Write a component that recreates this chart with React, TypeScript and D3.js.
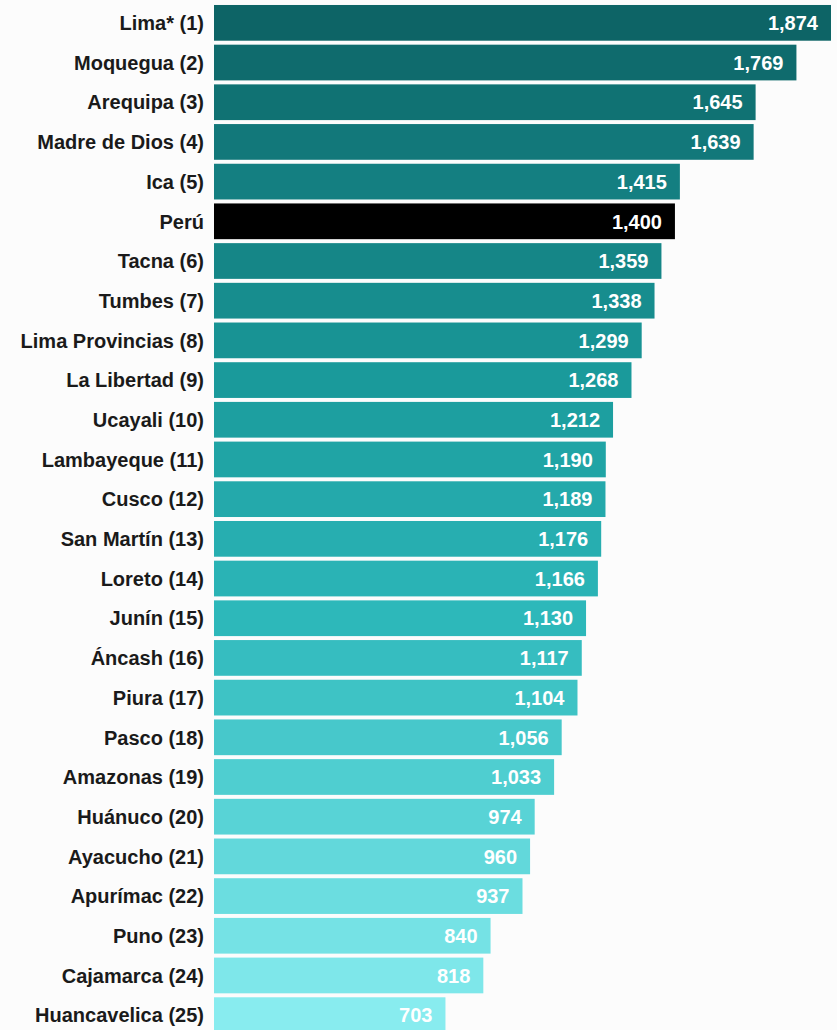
import React from "react";
import * as d3 from "d3";

const regions = [
  "Lima* (1)", "Moquegua (2)", "Arequipa (3)", "Madre de Dios (4)", "Ica (5)", "Perú",
  "Tacna (6)", "Tumbes (7)", "Lima Provincias (8)", "La Libertad (9)", "Ucayali (10)",
  "Lambayeque (11)", "Cusco (12)", "San Martín (13)", "Loreto (14)", "Junín (15)",
  "Áncash (16)", "Piura (17)", "Pasco (18)", "Amazonas (19)", "Huánuco (20)",
  "Ayacucho (21)", "Apurímac (22)", "Puno (23)", "Cajamarca (24)", "Huancavelica (25)",
];
const values = [
  1874, 1769, 1645, 1639, 1415, 1400, 1359, 1338, 1299, 1268, 1212, 1190, 1189, 1176,
  1166, 1130, 1117, 1104, 1056, 1033, 974, 960, 937, 840, 818, 703,
];
const nationalLabel = "Perú";
const rankStops = [1, 9, 15, 20, 25];
const colorStops = ["#0d6466", "#1a9a9b", "#2db8ba", "#58d3d6", "#88ecef"];

export default function App() {
  const W = 837;
  const H = 1030;
  const x = d3.scaleLinear().domain([0, 1874]).range([214, 831]);
  const y = d3
    .scaleBand<string>()
    .domain(regions)
    .range([3, 1035])
    .paddingInner(0.1)
    .paddingOuter(0.05);
  const color = d3
    .scaleLinear<string>()
    .domain(rankStops)
    .range(colorStops)
    .interpolate(d3.interpolateRgb);
  const fmt = d3.format(",");
  let rank = 0;
  const rows = regions.map((name, i) => {
    const isNat = name === nationalLabel;
    if (!isNat) rank += 1;
    return { name, value: values[i], fill: isNat ? "#000000" : color(rank) };
  });
  return (
    <svg
      width={W}
      height={H}
      style={{ position: "absolute", left: 0, top: 0, background: "#fcfcfc" }}
      fontFamily="'Liberation Sans', Arial, Helvetica, sans-serif"
      fontWeight="bold"
    >
      {rows.map((r) => {
        const y0 = y(r.name)!;
        const bw = y.bandwidth();
        const cy = y0 + bw / 2;
        return (
          <g key={r.name}>
            <rect x={x(0)} y={y0} width={x(r.value) - x(0)} height={bw} fill={r.fill} />
            <text x={204} y={cy} dy="0.36em" textAnchor="end" fontSize={20} fill="#1a1a1a">
              {r.name}
            </text>
            <text x={x(r.value) - 13} y={cy} dy="0.36em" textAnchor="end" fontSize={20} fill="#ffffff">
              {fmt(r.value)}
            </text>
          </g>
        );
      })}
    </svg>
  );
}
